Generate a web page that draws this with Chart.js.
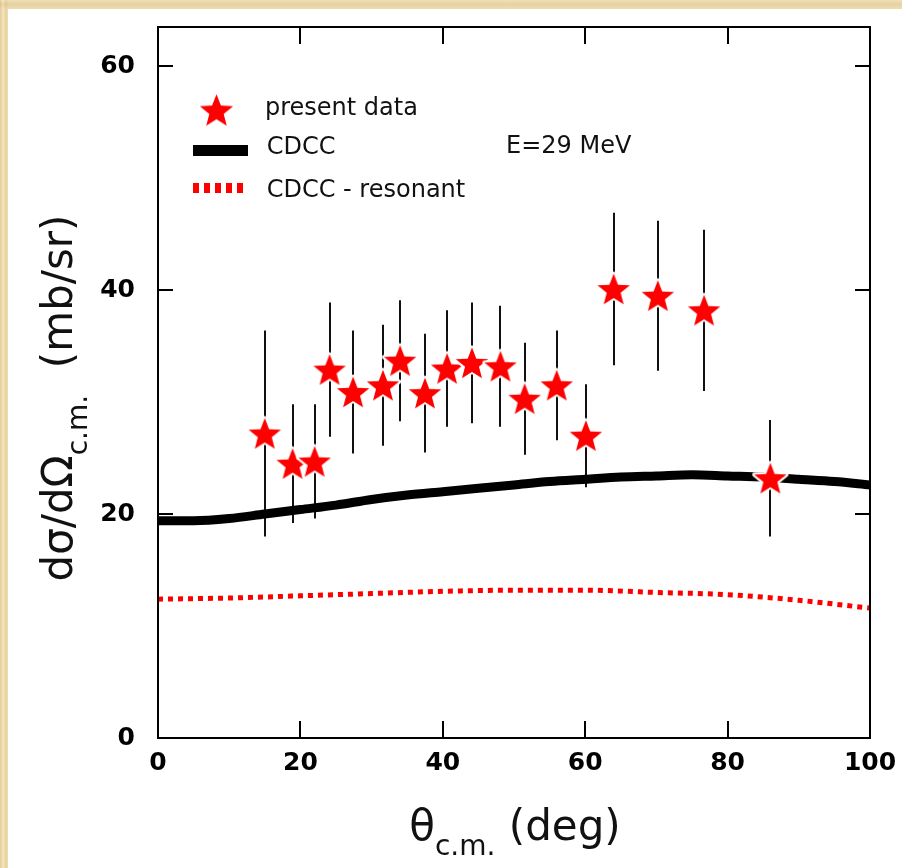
<!DOCTYPE html>
<html>
<head>
<meta charset="utf-8">
<script src="https://cdn.jsdelivr.net/npm/chart.js@4.4.1/dist/chart.umd.min.js"></script>
<style>
  html, body { margin: 0; padding: 0; width: 902px; height: 868px; overflow: hidden; }
  body {
    background-color: #e9d7a5;
    background-image:
      linear-gradient(90deg, rgba(190,160,100,0.25) 0px, rgba(255,245,215,0.35) 3px, rgba(200,170,110,0.2) 6px, rgba(240,225,185,0.3) 8px),
      linear-gradient(180deg, rgba(255,240,205,0.4) 0px, rgba(205,175,120,0.3) 4px, rgba(245,228,190,0.35) 9px);
  }
  #card { position: absolute; left: 8px; top: 9px; width: 894px; height: 859px; background: #ffffff; }
  canvas { display: block; }
</style>
</head>
<body>
<div id="card"><canvas id="chart" width="894" height="859"></canvas></div>
<script>
// Measured elastic cross sections, E = 29 MeV
const angles          = [15.0, 18.9, 22.0, 24.1, 27.4, 31.6, 34.0, 37.5, 40.6, 44.1, 48.1, 51.5, 56.0, 60.1, 64.0, 70.2, 76.7, 86.0];
const crossSection    = [27.2, 24.5, 24.7, 32.9, 30.9, 31.5, 33.7, 30.8, 33.0, 33.5, 33.2, 30.3, 31.5, 27.0, 40.1, 39.5, 38.2, 23.2];
const crossSectionErr = [9.2, 5.3, 5.1, 6.0, 5.5, 5.4, 5.4, 5.3, 5.2, 5.4, 5.4, 5.0, 4.9, 4.6, 6.8, 6.7, 7.2, 5.2];

// CDCC calculation
const cdccAngles = [0, 5, 10, 15, 20, 25, 30, 35, 40, 45, 50, 55, 60, 65, 70, 75, 80, 85, 90, 95, 100];
const cdccValues = [19.4, 19.4, 19.6, 20.0, 20.4, 20.8, 21.3, 21.7, 22.0, 22.3, 22.6, 22.9, 23.1, 23.3, 23.4, 23.5, 23.4, 23.3, 23.1, 22.9, 22.6];

// CDCC without the resonant contribution
const resonantAngles = [0, 10, 20, 30, 40, 50, 60, 70, 80, 90, 100];
const resonantValues = [12.4, 12.5, 12.7, 12.9, 13.1, 13.2, 13.2, 13.0, 12.8, 12.3, 11.6];

const xTickValues = [0, 20, 40, 60, 80, 100];
const yTickValues = [0, 20, 40, 60];

const FONT = "'DejaVu Sans', sans-serif";

function makeStar(R, ratio, fill, halo) {
  const s = Math.ceil(2 * (R + halo)) + 2;
  const c = document.createElement('canvas');
  c.width = s; c.height = s;
  const g = c.getContext('2d');
  const cx = s / 2, cy = s / 2 + 0.095 * R;
  g.beginPath();
  for (let k = 0; k < 10; k++) {
    const r = (k % 2) ? R * ratio : R;
    const a = -Math.PI / 2 + k * Math.PI / 5;
    g.lineTo(cx + r * Math.cos(a), cy + r * Math.sin(a));
  }
  g.closePath();
  g.lineJoin = 'round';
  g.strokeStyle = '#ffffff';
  g.lineWidth = halo * 2;
  g.stroke();
  g.fillStyle = fill;
  g.fill();
  return c;
}

const starImg = makeStar(17, 0.43, '#ff0000', 2);
const legendStar = makeStar(17.5, 0.43, '#ff0000', 1);

const toXY = (xs, ys) => xs.map((x, i) => ({ x: x, y: ys[i] }));

// Vertical error bars under the data markers
const errorBars = {
  id: 'errorBars',
  beforeDatasetsDraw(chart) {
    const { ctx, scales: { x, y } } = chart;
    ctx.save();
    ctx.strokeStyle = '#111111';
    ctx.lineWidth = 2;
    angles.forEach((a, i) => {
      const px = Math.round(x.getPixelForValue(a));
      ctx.beginPath();
      ctx.moveTo(px, y.getPixelForValue(crossSection[i] - crossSectionErr[i]));
      ctx.lineTo(px, y.getPixelForValue(crossSection[i] + crossSectionErr[i]));
      ctx.stroke();
    });
    ctx.restore();
  }
};

// Box frame with inward tick marks, legend and axis titles
const decorations = {
  id: 'decorations',
  afterDraw(chart) {
    const { ctx, chartArea: ca, scales: { x, y } } = chart;
    ctx.save();
    ctx.strokeStyle = '#000000';
    ctx.lineWidth = 2;
    ctx.strokeRect(ca.left, ca.top, ca.right - ca.left, ca.bottom - ca.top);
    ctx.beginPath();
    xTickValues.slice(1, -1).forEach(v => {
      const px = Math.round(x.getPixelForValue(v));
      ctx.moveTo(px, ca.bottom); ctx.lineTo(px, ca.bottom - 17);
      ctx.moveTo(px, ca.top); ctx.lineTo(px, ca.top + 17);
    });
    yTickValues.slice(1).forEach(v => {
      const py = Math.round(y.getPixelForValue(v));
      ctx.moveTo(ca.left, py); ctx.lineTo(ca.left + 15, py);
      ctx.moveTo(ca.right, py); ctx.lineTo(ca.right - 15, py);
    });
    ctx.stroke();

    // legend
    ctx.drawImage(legendStar, 208.5 - legendStar.width / 2, 101 - legendStar.height / 2);
    ctx.beginPath();
    ctx.lineWidth = 11;
    ctx.strokeStyle = '#000000';
    ctx.moveTo(185, 141.5); ctx.lineTo(240, 141.5);
    ctx.stroke();
    ctx.beginPath();
    ctx.lineWidth = 10;
    ctx.strokeStyle = '#ff0000';
    ctx.setLineDash([6, 5]);
    ctx.moveTo(185, 179); ctx.lineTo(240, 179);
    ctx.stroke();
    ctx.setLineDash([]);

    ctx.fillStyle = '#111111';
    ctx.textBaseline = 'alphabetic';
    ctx.textAlign = 'left';
    ctx.font = '24px ' + FONT;
    ctx.fillText('present data', 257, 106);
    ctx.fillText('CDCC', 258.7, 145);
    ctx.fillText('E=29 MeV', 498, 144.3);
    ctx.fillText('CDCC - resonant', 258.7, 187.7);

    // x title: θ_c.m. (deg)
    const big = '42px ' + FONT, small = '28px ' + FONT;
    ctx.font = big; const wTheta = ctx.measureText('\u03B8').width;
    ctx.font = small; const wSub = ctx.measureText('c.m.').width;
    ctx.font = big; const wRest = ctx.measureText(' (deg)').width;
    let sx = 507 - (wTheta + wSub + wRest) / 2;
    const by = 831;
    ctx.font = big; ctx.fillText('\u03B8', sx, by); sx += wTheta;
    ctx.font = small; ctx.fillText('c.m.', sx, by + 15); sx += wSub;
    ctx.font = big; ctx.fillText(' (deg)', sx, by);

    // y title: dσ/dΩ_c.m. (mb/sr)
    ctx.save();
    ctx.translate(64, 389);
    ctx.rotate(-Math.PI / 2);
    ctx.font = big; const w1 = ctx.measureText('d\u03C3/d\u03A9').width;
    ctx.font = small; const w2 = ctx.measureText('c.m.').width;
    ctx.font = big; const w3 = ctx.measureText('  (mb/sr)').width;
    let tx = -(w1 + w2 + w3) / 2;
    ctx.font = big; ctx.fillText('d\u03C3/d\u03A9', tx, 0); tx += w1;
    ctx.font = small; ctx.fillText('c.m.', tx, 15); tx += w2;
    ctx.font = big; ctx.fillText('  (mb/sr)', tx, 0);
    ctx.restore();

    ctx.restore();
  }
};

new Chart(document.getElementById('chart'), {
  type: 'scatter',
  data: {
    datasets: [
      {
        label: 'present data',
        data: toXY(angles, crossSection),
        pointStyle: starImg,
        pointRadius: 17,
        showLine: false,
        order: 0
      },
      {
        label: 'CDCC',
        data: toXY(cdccAngles, cdccValues),
        showLine: true,
        borderColor: '#000000',
        borderWidth: 9,
        pointRadius: 0,
        cubicInterpolationMode: 'monotone',
        order: 1
      },
      {
        label: 'CDCC - resonant',
        data: toXY(resonantAngles, resonantValues),
        showLine: true,
        borderColor: '#ff0000',
        borderWidth: 5,
        borderDash: [5, 5],
        pointRadius: 0,
        cubicInterpolationMode: 'monotone',
        order: 2
      }
    ]
  },
  options: {
    responsive: false,
    animation: false,
    devicePixelRatio: 1,
    layout: { padding: { left: 0, top: 12, right: 32, bottom: 0 } },
    plugins: { legend: { display: false }, tooltip: { enabled: false } },
    scales: {
      x: {
        type: 'linear',
        min: 0, max: 100,
        afterBuildTicks: s => { s.ticks = xTickValues.map(v => ({ value: v })); },
        afterFit: s => { s.height = 130; s.paddingLeft = 0; s.paddingRight = 0; },
        grid: { display: false },
        border: { display: false },
        ticks: { color: '#000000', padding: 2, maxRotation: 0, autoSkip: false,
                 font: { family: FONT, size: 25, weight: 'bold' } }
      },
      y: {
        type: 'linear',
        min: 0, max: 63.5,
        afterBuildTicks: s => { s.ticks = yTickValues.map(v => ({ value: v })); },
        afterFit: s => { s.width = 150; s.paddingTop = 0; s.paddingBottom = 0; },
        grid: { display: false },
        border: { display: false },
        ticks: { color: '#000000', padding: 15, autoSkip: false,
                 font: { family: FONT, size: 25, weight: 'bold' } }
      }
    }
  },
  plugins: [errorBars, decorations]
});
</script>
</body>
</html>
